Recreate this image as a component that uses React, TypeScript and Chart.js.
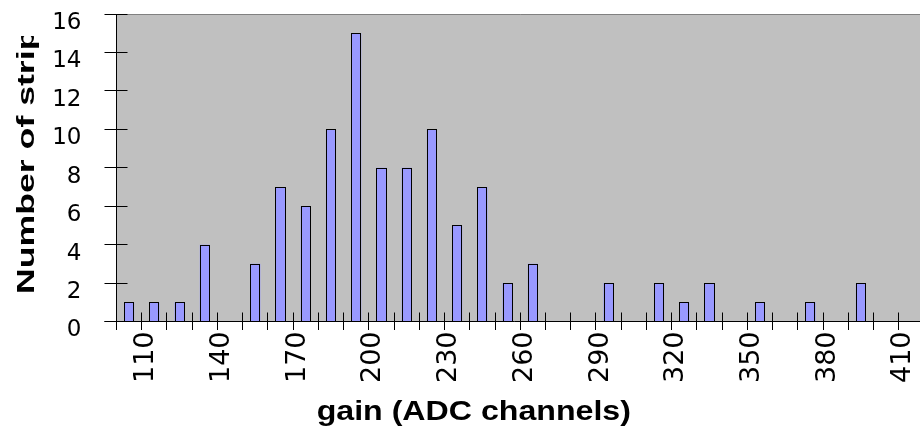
import React, { useEffect, useRef } from 'react';
import { Chart, registerables } from 'chart.js';

Chart.register(...registerables);

// ---- data ----
const categories = [
  '100', '110', '120', '130', '140', '150', '160', '170', '180', '190',
  '200', '210', '220', '230', '240', '250', '260', '270', '280', '290',
  '300', '310', '320', '330', '340', '350', '360', '370', '380', '390',
  '400', '410',
];
const stripCounts = [
  1, 1, 1, 4, 0, 3, 7, 6, 10, 15,
  8, 8, 10, 5, 7, 2, 3, 0, 0, 2,
  0, 2, 1, 2, 0, 1, 0, 1, 0, 2,
  0, 0,
];
const xTickLabels = ['110', '140', '170', '200', '230', '260', '290', '320', '350', '380', '410'];
const yTickValues = [0, 2, 4, 6, 8, 10, 12, 14, 16];
const xTitle = 'gain (ADC channels)';
const yTitle = 'Number of strips';

// ---- styles ----
const plotBg = '#C0C0C0';
const barFill = '#9999FF';
const barEdge = '#000000';
const tickFont = 'DejaVu Sans';
const titleFont = 'Liberation Sans';

const crisp = (p: number) => Math.floor(p) + 0.5;

const decorPlugin = {
  id: 'decor',
  beforeDatasetsDraw(chart: any) {
    const { ctx, chartArea: a } = chart;
    ctx.save();
    ctx.fillStyle = plotBg;
    ctx.fillRect(a.left, a.top, a.right - a.left, a.bottom - a.top);
    ctx.restore();
  },
  afterDatasetsDraw(chart: any) {
    const { ctx, chartArea: a, scales } = chart;
    const xs = scales.x;
    const ys = scales.y;
    ctx.save();
    ctx.lineWidth = 1;
    // crisp bar outlines on top of the library's bar elements
    const meta = chart.getDatasetMeta(0);
    ctx.strokeStyle = barEdge;
    meta.data.forEach((el: any, i: number) => {
      if (!stripCounts[i]) return;
      const props = el.getProps(['x', 'y', 'base', 'width']);
      const l = Math.round(props.x - props.width / 2) + 0.5;
      const r = Math.round(props.x + props.width / 2) - 0.5;
      const t = Math.round(props.y) + 0.5;
      const b = Math.round(props.base) - 0.5;
      ctx.fillStyle = barFill;
      ctx.fillRect(l - 0.5, t - 0.5, r - l + 1, b - t + 1);
      ctx.strokeRect(l, t, r - l, b - t);
    });
    // top border
    ctx.strokeStyle = '#808080';
    ctx.beginPath();
    ctx.moveTo(a.left, crisp(a.top));
    ctx.lineTo(a.right, crisp(a.top));
    ctx.stroke();
    ctx.strokeStyle = '#000000';
    // y axis line
    const ax = crisp(a.left);
    ctx.beginPath();
    ctx.moveTo(ax, a.top);
    ctx.lineTo(ax, a.bottom + 8.5);
    ctx.stroke();
    // x axis line
    const ay = crisp(a.bottom);
    ctx.beginPath();
    ctx.moveTo(ax - 12, ay);
    ctx.lineTo(a.right, ay);
    ctx.stroke();
    // y ticks (crossing)
    yTickValues.forEach((v) => {
      const py = crisp(ys.getPixelForValue(v));
      ctx.beginPath();
      ctx.moveTo(ax - 12, py);
      ctx.lineTo(ax + 11, py);
      ctx.stroke();
    });
    // x ticks at category boundaries (crossing)
    for (let i = 1; i <= categories.length; i++) {
      const px = crisp(xs.getPixelForValue(i - 0.5));
      ctx.beginPath();
      ctx.moveTo(px, ay - 9);
      ctx.lineTo(px, ay + 8.5);
      ctx.stroke();
    }
    ctx.restore();
  },
  afterDraw(chart: any) {
    const { ctx } = chart;
    ctx.save();
    ctx.fillStyle = '#000000';
    ctx.textAlign = 'left';
    ctx.textBaseline = 'alphabetic';
    // x title
    ctx.save();
    ctx.font = `bold 27px "${titleFont}"`;
    ctx.translate(316.7, 420);
    ctx.scale(1.19, 1);
    ctx.fillText(xTitle, 0, 0);
    ctx.restore();
    // y title (clipped at top)
    ctx.save();
    ctx.beginPath();
    ctx.rect(0, 36, 110, 400);
    ctx.clip();
    ctx.font = `bold 23px "${titleFont}"`;
    ctx.translate(33.5, 294);
    ctx.rotate(-Math.PI / 2);
    ctx.scale(1.55, 1);
    ctx.fillText(yTitle, 0, 0);
    ctx.restore();
    ctx.restore();
  },
};

export default function App() {
  const canvasRef = useRef<HTMLCanvasElement | null>(null);

  useEffect(() => {
    if (!canvasRef.current) return;
    const chart = new Chart(canvasRef.current, {
      type: 'bar',
      data: {
        labels: categories,
        datasets: [
          {
            data: stripCounts,
            backgroundColor: barFill,
            borderWidth: 0,
            barPercentage: 0.4,
            categoryPercentage: 1,
          },
        ],
      },
      options: {
        responsive: false,
        animation: false,
        devicePixelRatio: 1,
        layout: { padding: { top: 14, left: 0, right: 0, bottom: 0 } },
        plugins: {
          legend: { display: false },
          tooltip: { enabled: false },
          title: { display: false },
        },
        scales: {
          x: {
            type: 'category',
            offset: true,
            grid: { display: false, drawTicks: false },
            border: { display: false },
            ticks: {
              autoSkip: false,
              minRotation: 90,
              maxRotation: 90,
              padding: 10,
              labelOffset: -8,
              color: '#000000',
              font: { family: tickFont, size: 27 },
              callback: function (this: any, value: any) {
                const lbl = this.getLabelForValue(value);
                return xTickLabels.includes(lbl) ? lbl : '';
              },
            },
            afterFit(scale: any) {
              scale.height = 112.5;
              scale.paddingLeft = 0;
              scale.paddingRight = 0;
            },
          },
          y: {
            min: 0,
            max: 16,
            grid: { display: false, drawTicks: false },
            border: { display: false },
            ticks: {
              stepSize: 2,
              padding: 35,
              labelOffset: 9,
              color: '#000000',
              font: { family: tickFont, size: 23 },
            },
            afterFit(scale: any) {
              scale.width = 116.5;
              scale.paddingTop = 0;
              scale.paddingBottom = 0;
            },
          },
        },
      },
      plugins: [decorPlugin],
    });
    return () => chart.destroy();
  }, []);

  return (
    <div
      style={{
        position: 'fixed',
        left: 0,
        top: 0,
        width: 920,
        height: 434,
        overflow: 'hidden',
        background: '#ffffff',
      }}
    >
      <canvas ref={canvasRef} width={924} height={434} style={{ display: 'block' }} />
    </div>
  );
}
